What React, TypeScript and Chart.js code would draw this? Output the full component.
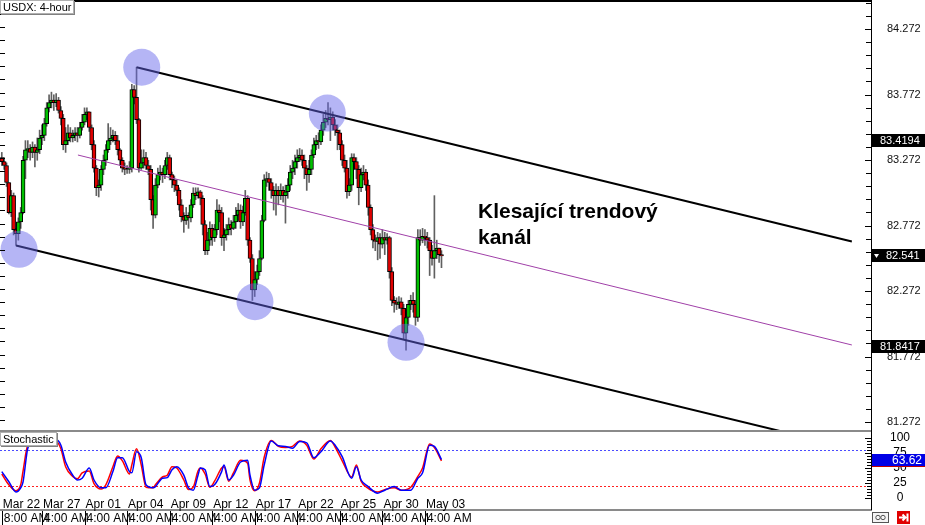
import React, { useEffect, useRef } from "react";
import { Chart, registerables } from "chart.js";
Chart.register(...registerables);

const FONT = '"Liberation Sans", Arial, sans-serif';

// ---- price data (4-hour candles) ----
const FIRST_OPEN = 83.29;
const closes = [
  83.26, 83.23, 83.10, 82.87, 83.00, 82.74, 82.71, 82.80, 82.87, 83.27,
  83.35, 83.36, 83.33, 83.37, 83.33, 83.35, 83.44, 83.46, 83.55, 83.67,
  83.71, 83.73, 83.71, 83.73, 83.65, 83.59, 83.39, 83.42, 83.48, 83.44,
  83.46, 83.48, 83.46, 83.52, 83.56, 83.62, 83.64, 83.52, 83.39, 83.21,
  83.06, 83.08, 83.20, 83.27, 83.35, 83.42, 83.44, 83.46, 83.42, 83.35,
  83.27, 83.21, 83.20, 83.20, 83.21, 83.81, 83.75, 83.58, 83.21, 83.25,
  83.29, 83.23, 83.20, 82.97, 82.85, 83.08, 83.16, 83.18, 83.16, 83.23,
  83.29, 83.16, 83.12, 83.08, 83.04, 82.93, 82.84, 82.81, 82.85, 82.83,
  82.93, 83.02, 83.00, 83.03, 82.98, 82.78, 82.58, 82.66, 82.75, 82.68,
  82.74, 82.89, 82.87, 82.68, 82.70, 82.74, 82.78, 82.75, 82.80, 82.85,
  82.89, 82.80, 82.87, 82.98, 82.66, 82.52, 82.28, 82.36, 82.42, 82.52,
  82.81, 83.12, 83.13, 83.10, 83.04, 83.00, 83.04, 83.00, 83.04, 83.00,
  83.03, 83.08, 83.18, 83.21, 83.26, 83.29, 83.31, 83.27, 83.21, 83.16,
  83.20, 83.31, 83.39, 83.42, 83.41, 83.50, 83.56, 83.59, 83.58, 83.60,
  83.54, 83.50, 83.48, 83.39, 83.27, 83.21, 83.03, 83.08, 83.29, 83.26,
  83.20, 83.06, 83.16, 83.18, 83.08, 82.91, 82.74, 82.66, 82.65, 82.68,
  82.63, 82.68, 82.66, 82.68, 82.42, 82.20, 82.18, 82.17, 82.19, 82.14,
  81.95, 82.07, 82.17, 82.20, 82.17, 82.07, 82.68, 82.66, 82.69, 82.68,
  82.66, 82.58, 82.52, 82.58, 82.60, 82.55, 82.54,
];
const highs = [
  83.33, 83.29, 83.25, 83.10, 83.04, 83.02, 82.75, 82.83, 82.91, 83.30,
  83.42, 83.42, 83.39, 83.41, 83.39, 83.44, 83.50, 83.54, 83.59, 83.71,
  83.77, 83.79, 83.77, 83.78, 83.75, 83.68, 83.62, 83.52, 83.54, 83.52,
  83.50, 83.52, 83.52, 83.56, 83.62, 83.67, 83.67, 83.64, 83.54, 83.42,
  83.23, 83.12, 83.23, 83.31, 83.39, 83.55, 83.52, 83.50, 83.49, 83.46,
  83.36, 83.29, 83.25, 83.23, 83.26, 83.85, 83.84, 83.98, 83.59, 83.35,
  83.35, 83.33, 83.27, 83.23, 83.00, 83.13, 83.21, 83.23, 83.21, 83.27,
  83.33, 83.31, 83.18, 83.15, 83.12, 83.06, 82.97, 82.87, 82.91, 82.87,
  82.97, 83.06, 83.06, 83.06, 83.04, 83.00, 82.81, 82.72, 82.80, 82.78,
  82.78, 82.97, 82.93, 82.91, 82.75, 82.78, 82.83, 82.81, 82.85, 82.91,
  82.94, 82.93, 82.92, 83.04, 83.00, 82.68, 82.55, 82.42, 82.47, 82.58,
  82.85, 83.16, 83.18, 83.17, 83.13, 83.07, 83.09, 83.07, 83.09, 83.07,
  83.08, 83.13, 83.23, 83.27, 83.31, 83.35, 83.36, 83.35, 83.31, 83.23,
  83.27, 83.35, 83.44, 83.46, 83.48, 83.54, 83.62, 83.65, 83.71, 83.67,
  83.64, 83.58, 83.54, 83.50, 83.42, 83.31, 83.27, 83.13, 83.32, 83.32,
  83.29, 83.23, 83.21, 83.23, 83.20, 83.12, 82.93, 82.78, 82.70, 82.72,
  82.71, 82.74, 82.72, 82.71, 82.69, 82.45, 82.23, 82.22, 82.23, 82.22,
  82.17, 82.13, 82.20, 82.24, 82.26, 82.20, 82.74, 82.74, 82.75, 82.74,
  82.72, 82.68, 82.62, 83.00, 82.66, 82.60, 82.58,
];
const lows = [
  83.23, 83.20, 83.07, 82.86, 82.84, 82.70, 82.62, 82.66, 82.75, 82.86,
  83.13, 83.29, 83.27, 83.29, 83.22, 83.27, 83.32, 83.39, 83.42, 83.53,
  83.64, 83.67, 83.65, 83.68, 83.63, 83.54, 83.35, 83.33, 83.39, 83.41,
  83.41, 83.42, 83.41, 83.44, 83.50, 83.54, 83.58, 83.49, 83.35, 83.18,
  83.00, 82.99, 83.04, 83.16, 83.23, 83.33, 83.39, 83.41, 83.39, 83.31,
  83.23, 83.18, 83.16, 83.17, 83.17, 83.18, 83.70, 83.55, 83.18, 83.20,
  83.21, 83.20, 83.16, 82.89, 82.75, 82.83, 83.06, 83.12, 83.10, 83.13,
  83.20, 83.12, 83.06, 83.03, 83.00, 82.89, 82.80, 82.72, 82.78, 82.75,
  82.80, 82.91, 82.97, 82.98, 82.93, 82.70, 82.55, 82.55, 82.62, 82.62,
  82.65, 82.70, 82.80, 82.62, 82.58, 82.66, 82.70, 82.70, 82.74, 82.75,
  82.81, 82.75, 82.77, 82.85, 82.62, 82.49, 82.20, 82.23, 82.32, 82.39,
  82.51, 82.80, 83.07, 83.04, 82.98, 82.89, 82.85, 82.93, 82.97, 82.95,
  82.79, 82.98, 83.04, 83.13, 83.16, 83.21, 83.26, 83.23, 83.13, 83.04,
  83.10, 83.16, 83.29, 83.35, 83.36, 83.39, 83.46, 83.52, 83.54, 83.42,
  83.50, 83.46, 83.35, 83.35, 83.23, 83.18, 82.98, 83.00, 83.04, 83.20,
  83.13, 82.93, 83.03, 83.12, 83.04, 82.85, 82.70, 82.60, 82.58, 82.51,
  82.52, 82.60, 82.55, 82.63, 82.37, 82.16, 82.11, 82.13, 82.14, 82.09,
  81.90, 81.82, 82.01, 82.13, 82.11, 82.01, 82.04, 82.62, 82.64, 82.62,
  82.60, 82.39, 82.47, 82.37, 82.52, 82.49, 82.45,
];

const priceTicks = [84.272, 83.772, 83.272, 82.772, 82.272, 81.772, 81.272];
const priceMarkers = [83.4194, 82.541, 81.8417];
const LAST_PRICE = 82.541;

// channel lines (candle index, price)
const upperChannel = [{ x: 57, y: 83.98 }, { x: 359.6, y: 82.65 }];
const lowerChannel = [{ x: 6, y: 82.62 }, { x: 359.6, y: 81.07 }];
const midChannel = [{ x: 32.2, y: 83.31 }, { x: 359.6, y: 81.86 }];
// highlighted touch points
const touchPoints = [
  { x: 7.3, y: 82.59 },
  { x: 59.2, y: 83.98 },
  { x: 137.7, y: 83.63 },
  { x: 107.1, y: 82.19 },
  { x: 171, y: 81.88 },
];

// ---- stochastic ----
const stochIdx = [
  0, 3, 6, 8, 9, 11, 13, 16, 17, 20, 23, 25, 27, 30, 32, 34, 37, 39, 42, 44,
  47, 49, 51, 54, 55, 57, 59, 61, 64, 65, 68, 70, 72, 74, 77, 79, 81, 83, 84, 86,
  88, 90, 93, 94, 96, 98, 101, 104, 105, 107, 109, 111, 114, 117, 120, 123, 126, 129, 132, 135,
  139, 141, 144, 148, 150, 152, 155, 159, 162, 166, 169, 173, 176, 178, 181, 183, 186,
];
const stochMain = [
  44, 27, 10, 17, 27, 83, 92, 93, 90, 97, 97, 88, 60, 38, 30, 33, 50, 30, 17, 17,
  44, 67, 67, 44, 42, 77, 67, 22, 17, 19, 33, 34, 47, 52, 38, 17, 13, 38, 50, 47,
  19, 22, 44, 55, 30, 38, 60, 63, 38, 13, 17, 55, 95, 87, 86, 83, 94, 92, 67, 77,
  95, 88, 69, 33, 52, 30, 19, 8, 13, 19, 13, 13, 33, 42, 88, 86, 64,
];
const stochSignal = [
  40, 22, 12, 22, 45, 88, 92, 91, 92, 98, 95, 82, 52, 36, 32, 42, 45, 24, 15, 22,
  52, 70, 62, 40, 55, 82, 55, 18, 17, 22, 35, 38, 52, 50, 30, 14, 18, 45, 50, 40,
  18, 28, 50, 52, 28, 42, 63, 58, 30, 12, 25, 68, 96, 86, 84, 86, 95, 88, 65, 82,
  96, 85, 62, 35, 55, 28, 16, 10, 14, 17, 13, 18, 36, 50, 90, 84, 62,
];
const STOCH_LAST = 63.62;
const stochLevels = [80, 20];
const stochTicks = [100, 75, 50, 25, 0];

// ---- time axis ----
const dateTickIdx = [0, 17, 35, 53, 71, 89, 107, 125, 143, 161, 179];
const dateLabels = ["Mar 22", "Mar 27", "Apr 01", "Apr 04", "Apr 09", "Apr 12", "Apr 17", "Apr 22", "Apr 25", "Apr 30", "May 03"];
const timeLabels = ["8:00 AM", "4:00 AM", "4:00 AM", "4:00 AM", "4:00 AM", "4:00 AM", "4:00 AM", "4:00 AM", "4:00 AM", "4:00 AM", "4:00 AM"];

const X_MIN = -0.76;
const X_MAX = 367.7;
const Y_MIN = 81.211;
const Y_MAX = 84.4934;
const S_MIN = -18.33;
const S_MAX = 110;

const mainDecor = {
  id: "mainDecor",
  afterDraw(chart: any) {
    const { ctx, chartArea: a, scales } = chart;
    const y = scales.y;
    ctx.save();
    ctx.fillStyle = "#000";
    ctx.fillRect(0, 0, a.right + 1, 2);
    ctx.fillRect(a.right, 0, 1, a.bottom);
    // minor ticks every 0.1
    for (let k = 0; k <= 33; k++) {
      const v = priceTicks[0] + 0.2 - 0.1 * k;
      const py = Math.round(y.getPixelForValue(v));
      if (py < 2 || py > a.bottom - 1) continue;
      const major = k % 5 === 2;
      const len = major ? 6 : 5;
      ctx.fillRect(a.right - len, py, len, 1);
      ctx.fillRect(0, py - 2, 5, 1);
    }
    ctx.font = `11px ${FONT}`;
    ctx.textAlign = "left";
    ctx.textBaseline = "middle";
    ctx.fillStyle = "#111";
    priceTicks.forEach((v) => ctx.fillText(v.toFixed(3), a.right + 16, y.getPixelForValue(v)));
    priceMarkers.forEach((v) => {
      const py = Math.round(y.getPixelForValue(v));
      ctx.fillStyle = "#000";
      ctx.fillRect(a.right + 1, py - 7, 54, 13);
      ctx.fillStyle = "#fff";
      if (v === LAST_PRICE) {
        ctx.beginPath();
        ctx.moveTo(a.right + 3, py - 2);
        ctx.lineTo(a.right + 8, py - 2);
        ctx.lineTo(a.right + 5.5, py + 2);
        ctx.closePath();
        ctx.fill();
        ctx.fillText(String(v), a.right + 15, py);
      } else {
        ctx.fillText(String(v), a.right + 9, py);
      }
    });
    ctx.restore();
  },
};

const stochDecor = {
  id: "stochDecor",
  beforeDatasetsDraw(chart: any) {
    const { ctx, chartArea: a, scales } = chart;
    const y = scales.y;
    const cols = ["#4a4aff", "#ff2020"];
    ctx.save();
    ctx.setLineDash([2, 2]);
    ctx.lineWidth = 1;
    stochLevels.forEach((v, k) => {
      const py = Math.round(y.getPixelForValue(v)) + 0.5;
      ctx.strokeStyle = cols[k];
      ctx.beginPath();
      ctx.moveTo(0, py);
      ctx.lineTo(a.right, py);
      ctx.stroke();
    });
    ctx.restore();
  },
  afterDraw(chart: any) {
    const { ctx, chartArea: a, scales } = chart;
    const y = scales.y;
    const x = scales.x;
    ctx.save();
    ctx.fillStyle = "#8a8a8a";
    ctx.fillRect(0, 0, a.right + 1, 2);
    ctx.fillRect(0, a.bottom, a.right + 1, 2);
    ctx.fillStyle = "#000";
    ctx.fillRect(a.right, 0, 1, a.bottom + 1);
    for (let v = 0; v <= 100; v += 5) {
      const py = Math.round(y.getPixelForValue(v));
      const len = v % 25 === 0 ? 6 : 4;
      ctx.fillRect(a.right - len, py, len, 1);
    }
    ctx.font = `12px ${FONT}`;
    ctx.textAlign = "center";
    ctx.textBaseline = "middle";
    stochTicks.forEach((v) => ctx.fillText(String(v), 900, y.getPixelForValue(v)));
    // value box
    const vy = Math.round(y.getPixelForValue(STOCH_LAST));
    ctx.fillStyle = "#c00000";
    ctx.fillRect(a.right + 1, vy + 5, 54, 2);
    ctx.fillStyle = "#0000e6";
    ctx.fillRect(a.right + 1, vy - 6, 54, 12);
    ctx.fillStyle = "#fff";
    ctx.textAlign = "right";
    ctx.fillText(STOCH_LAST.toFixed(2), 922, vy + 0.5);
    // time axis
    ctx.fillStyle = "#000";
    ctx.textAlign = "left";
    ctx.textBaseline = "alphabetic";
    dateTickIdx.forEach((t, k) => {
      const px = x.getPixelForValue(t);
      ctx.fillText(dateLabels[k], px + 1, a.bottom - 1);
      ctx.fillText(timeLabels[k], px + 2, a.bottom + 13);
      ctx.fillRect(Math.round(px), a.bottom + 2, 1, 14);
    });
    // small icons bottom right
    ctx.strokeStyle = "#555";
    ctx.lineWidth = 1;
    ctx.fillStyle = "#f4f4f4";
    ctx.fillRect(872, a.bottom + 3, 17, 11);
    ctx.strokeRect(872.5, a.bottom + 3.5, 16, 10);
    ctx.beginPath();
    ctx.arc(878, a.bottom + 8.5, 2.2, 0, Math.PI * 2);
    ctx.moveTo(885.2, a.bottom + 8.5);
    ctx.arc(883, a.bottom + 8.5, 2.2, 0, Math.PI * 2);
    ctx.stroke();
    ctx.fillStyle = "#e00000";
    ctx.fillRect(897, a.bottom + 2, 13, 13);
    ctx.strokeStyle = "#fff";
    ctx.lineWidth = 2;
    ctx.beginPath();
    ctx.moveTo(899, a.bottom + 8.5);
    ctx.lineTo(905, a.bottom + 8.5);
    ctx.moveTo(902.5, a.bottom + 5.5);
    ctx.lineTo(905.5, a.bottom + 8.5);
    ctx.lineTo(902.5, a.bottom + 11.5);
    ctx.moveTo(907.5, a.bottom + 4.5);
    ctx.lineTo(907.5, a.bottom + 12.5);
    ctx.stroke();
    ctx.restore();
  },
};

export default function App() {
  const mainRef = useRef<HTMLCanvasElement>(null);
  const stochRef = useRef<HTMLCanvasElement>(null);

  useEffect(() => {
    const opens = closes.map((c, i) => (i === 0 ? FIRST_OPEN : closes[i - 1]));
    const bodyData = closes.map((c, i) => ({ x: i, y: [opens[i], c] }));
    const wickData = closes.map((c, i) => ({ x: i, y: [lows[i], highs[i]] }));
    const bodyColors = closes.map((c, i) => (c >= opens[i] ? "#00c000" : "#e00000"));

    const main = new Chart(mainRef.current as HTMLCanvasElement, {
      type: "bar",
      data: {
        datasets: [
          {
            type: "line",
            data: touchPoints,
            showLine: false,
            pointRadius: 18.5,
            pointHoverRadius: 18.5,
            pointBackgroundColor: "rgba(100,100,235,0.48)",
            pointBorderWidth: 0,
            order: 0,
          } as any,
          { type: "line", data: upperChannel, borderColor: "#000", borderWidth: 2, pointRadius: 0, order: 1 } as any,
          { type: "line", data: lowerChannel, borderColor: "#000", borderWidth: 2, pointRadius: 0, order: 1 } as any,
          { type: "line", data: midChannel, borderColor: "#a040a8", borderWidth: 1, pointRadius: 0, order: 1 } as any,
          {
            type: "bar",
            data: bodyData,
            backgroundColor: bodyColors,
            borderColor: "#000",
            borderWidth: 1,
            borderSkipped: false,
            barThickness: 4,
            grouped: false,
            order: 2,
          } as any,
          {
            type: "bar",
            data: wickData,
            backgroundColor: "#606060",
            borderWidth: 0,
            barThickness: 1,
            grouped: false,
            order: 3,
          } as any,
        ],
      },
      options: {
        responsive: false,
        animation: false,
        devicePixelRatio: 1,
        events: [],
        layout: { autoPadding: false, padding: { left: 0, right: 54, top: 0, bottom: 0 } },
        plugins: { legend: { display: false }, tooltip: { enabled: false } },
        scales: {
          x: { type: "linear", min: X_MIN, max: X_MAX, offset: false, display: false },
          y: { type: "linear", min: Y_MIN, max: Y_MAX, display: false },
        },
      } as any,
      plugins: [mainDecor],
    });

    const stoch = new Chart(stochRef.current as HTMLCanvasElement, {
      type: "line",
      data: {
        datasets: [
          {
            data: stochIdx.map((xv, k) => ({ x: xv, y: stochMain[k] })),
            borderColor: "#0000ff",
            borderWidth: 1.5,
            pointRadius: 0,
            cubicInterpolationMode: "monotone",
            order: 0,
          } as any,
          {
            data: stochIdx.map((xv, k) => ({ x: xv, y: stochSignal[k] })),
            borderColor: "#ff0000",
            borderWidth: 1.5,
            pointRadius: 0,
            cubicInterpolationMode: "monotone",
            order: 1,
          } as any,
        ],
      },
      options: {
        responsive: false,
        animation: false,
        devicePixelRatio: 1,
        events: [],
        layout: { autoPadding: false, padding: { left: 0, right: 54, top: 2, bottom: 16 } },
        plugins: { legend: { display: false }, tooltip: { enabled: false } },
        scales: {
          x: { type: "linear", min: X_MIN, max: X_MAX, offset: false, display: false },
          y: { type: "linear", min: S_MIN, max: S_MAX, display: false },
        },
      } as any,
      plugins: [stochDecor],
    });

    return () => {
      main.destroy();
      stoch.destroy();
    };
  }, []);

  const boxStyle: React.CSSProperties = {
    position: "absolute",
    left: 0,
    background: "#fff",
    border: "1px solid #b0b0b0",
    boxShadow: "1px 1px 0 #808080",
    fontFamily: FONT,
    fontSize: 11,
    lineHeight: "12px",
    padding: "0 2px",
    color: "#000",
    whiteSpace: "nowrap",
  };

  return (
    <div
      style={{
        position: "absolute",
        left: 0,
        top: 0,
        width: 925,
        height: 525,
        background: "#fff",
        overflow: "hidden",
        fontFamily: FONT,
      }}
    >
      <canvas ref={mainRef} width={925} height={430} style={{ position: "absolute", left: 0, top: 0, width: 925, height: 430 }} />
      <canvas ref={stochRef} width={925} height={95} style={{ position: "absolute", left: 0, top: 430, width: 925, height: 95 }} />
      <div style={{ ...boxStyle, top: 0 }}>USDX: 4-hour</div>
      <div style={{ ...boxStyle, top: 432 }}>Stochastic</div>
      <div
        style={{
          position: "absolute",
          left: 478,
          top: 198,
          fontFamily: FONT,
          fontWeight: "bold",
          fontSize: 21,
          lineHeight: "26px",
          color: "#000",
          whiteSpace: "nowrap",
        }}
      >
        Klesající trendový
        <br />
        kanál
      </div>
    </div>
  );
}
